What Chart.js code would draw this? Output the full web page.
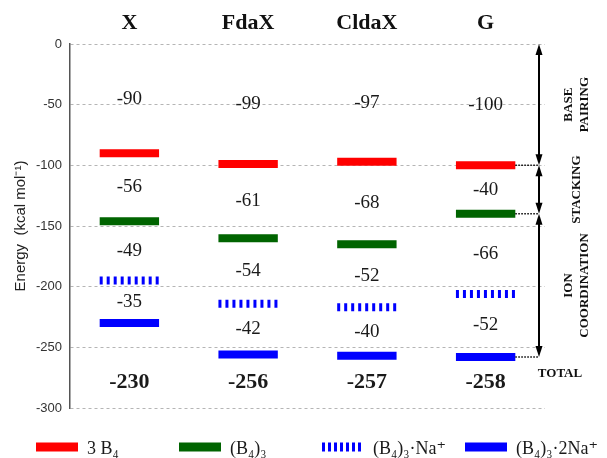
<!DOCTYPE html>
<html>
<head>
<meta charset="utf-8">
<script src="https://cdn.jsdelivr.net/npm/chart.js@4.4.0/dist/chart.umd.min.js"></script>
<style>
	html, body { margin: 0; padding: 0; background: #fff; }
	#wrap { width: 607px; height: 458px; }
</style>
</head>
<body>
<div id="wrap"><canvas id="energyChart"></canvas></div>
<script>
// 분자 종류 (x축 카테고리)
const categories = ['X', 'FdaX', 'CldaX', 'G'];

// 단계별 에너지 준위 (kcal/mol)
const levelB4 = [-90, -99, -97, -100];
const levelB4x3 = [-146, -160, -165, -140];
const levelNa = [-195, -214, -217, -206];
const level2Na = [-230, -256, -257, -258];

// 준위 사이에 적힌 차이 값
const diffBase = [-90, -99, -97, -100];
const diffStack = [-56, -61, -68, -40];
const diffIon1 = [-49, -54, -52, -66];
const diffIon2 = [-35, -42, -40, -52];
const totals = [-230, -256, -257, -258];

// y축 눈금
const yTicks = [0, -50, -100, -150, -200, -250, -300];

// 범례 / 오른쪽 구간 라벨
const seriesNames = ['3 B\u2084', '(B\u2084)\u2083', '(B\u2084)\u2083\u00b7Na\u207a', '(B\u2084)\u2083\u00b72Na\u207a'];
const seriesColors = ['#ff0000', '#006400', '#0000ff', '#0000ff'];
const sideLabels = [['BASE', 'PAIRING'], ['STACKING'], ['ION', 'COORDINATION']];

const SERIF = '"Liberation Serif", "DejaVu Serif", serif';
const SANS = '"Liberation Sans", Arial, sans-serif';

document.addEventListener('DOMContentLoaded', function() {
	initEnergyChart();
});

/**
 * 카테고리마다 짧은 수평선 (null 로 끊음)
 */
function levelData(values) {
	const pts = [];
	values.forEach(function(v, i) {
		pts.push({x: i - 0.25, y: v});
		pts.push({x: i + 0.25, y: v});
		pts.push({x: i + 0.5, y: null});
	});
	return pts;
}

function arrowHead(ctx, x, y, dir) {
	ctx.beginPath();
	ctx.moveTo(x, y);
	ctx.lineTo(x - 3.5, y - dir * 11);
	ctx.lineTo(x + 3.5, y - dir * 11);
	ctx.closePath();
	ctx.fill();
}

/**
 * 차이 값, 합계, 오른쪽 화살표, 범례 그리기
 */
const annotatePlugin = {
	id: 'annotate',
	afterDatasetsDraw: function(chart) {
		const ctx = chart.ctx;
		const xs = chart.scales.x;
		const ys = chart.scales.y;
		const area = chart.chartArea;
		ctx.save();

		// 차이 값 라벨
		ctx.textAlign = 'center';
		ctx.textBaseline = 'middle';
		ctx.fillStyle = '#1a1a1a';
		categories.forEach(function(c, i) {
			const stops = [0, levelB4[i], levelB4x3[i], levelNa[i], level2Na[i]];
			const labels = [diffBase[i], diffStack[i], diffIon1[i], diffIon2[i]];
			const cx = xs.getPixelForValue(i);
			ctx.font = '19px ' + SERIF;
			labels.forEach(function(lab, k) {
				ctx.fillText(String(lab), cx, ys.getPixelForValue((stops[k] + stops[k + 1]) / 2));
			});
			ctx.font = 'bold 22px ' + SERIF;
			ctx.fillText(String(totals[i]), cx, ys.getPixelForValue(-279));
		});

		// 오른쪽 화살표 (마지막 카테고리 기준)
		const last = categories.length - 1;
		const stopsG = [0, levelB4[last], levelB4x3[last], level2Na[last]];
		const ax = area.right - 6;
		ctx.strokeStyle = '#000';
		ctx.fillStyle = '#000';
		ctx.lineWidth = 2;
		for (let k = 0; k < stopsG.length - 1; k++) {
			const y1 = ys.getPixelForValue(stopsG[k]);
			const y2 = ys.getPixelForValue(stopsG[k + 1]);
			ctx.beginPath();
			ctx.moveTo(ax, y1 + 6);
			ctx.lineTo(ax, y2 - 6);
			ctx.stroke();
			arrowHead(ctx, ax, y1, -1);
			arrowHead(ctx, ax, y2, 1);
		}

		// 점선 연결
		ctx.lineWidth = 1.5;
		ctx.setLineDash([1.5, 1.5]);
		const bx = xs.getPixelForValue(last + 0.25);
		stopsG.slice(1).forEach(function(v) {
			const y = ys.getPixelForValue(v);
			ctx.beginPath();
			ctx.moveTo(bx, y);
			ctx.lineTo(ax, y);
			ctx.stroke();
		});
		ctx.setLineDash([]);

		// 구간 라벨 (세로)
		ctx.font = 'bold 13px ' + SERIF;
		ctx.fillStyle = '#111';
		sideLabels.forEach(function(lines, k) {
			const cy = ys.getPixelForValue((stopsG[k] + stopsG[k + 1]) / 2);
			ctx.save();
			ctx.translate(area.right + 32, cy);
			ctx.rotate(-Math.PI / 2);
			lines.forEach(function(t, j) {
				ctx.fillText(t, 0, (j - (lines.length - 1) / 2) * 16);
			});
			ctx.restore();
		});
		ctx.fillText('TOTAL', area.right + 15, ys.getPixelForValue(level2Na[last]) + 17);

		// 범례
		const legendX = [36, 179, 322, 465];
		const legendY = area.bottom + 39;
		ctx.textAlign = 'left';
		ctx.font = '18px ' + SERIF;
		seriesNames.forEach(function(name, k) {
			ctx.fillStyle = seriesColors[k];
			if (k === 2) {
				for (let s = 0; s < 42; s += 6) ctx.fillRect(legendX[k] + s, legendY - 4.5, 3, 9);
			} else {
				ctx.fillRect(legendX[k], legendY - 4.5, 42, 9);
			}
			ctx.fillStyle = '#1a1a1a';
			ctx.fillText(name, legendX[k] + 51, legendY + 2);
		});

		ctx.restore();
	}
};

/**
 * 에너지 준위 차트 초기화
 */
function initEnergyChart() {
	const ctx = document.getElementById('energyChart').getContext('2d');
	const levels = [levelB4, levelB4x3, levelNa, level2Na];
	new Chart(ctx, {
		type: 'line',
		data: {
			datasets: levels.map(function(vals, k) {
				return {
					label: seriesNames[k],
					data: levelData(vals),
					borderColor: seriesColors[k],
					borderWidth: 8,
					borderCapStyle: 'butt',
					borderDash: k === 2 ? [3, 4] : [],
					pointRadius: 0,
					spanGaps: false,
					tension: 0
				};
			})
		},
		options: {
			responsive: true,
			maintainAspectRatio: false,
			animation: false,
			layout: { padding: { left: 0, right: 62, top: 0, bottom: 50 } },
			plugins: {
				legend: { display: false },
				tooltip: { enabled: false }
			},
			scales: {
				x: {
					type: 'linear',
					position: 'top',
					min: -0.5,
					max: 3.5,
					afterBuildTicks: function(scale) {
						scale.ticks = categories.map(function(c, i) { return {value: i}; });
					},
					afterFit: function(scale) { scale.height = 44; },
					grid: { display: false },
					border: { display: false },
					ticks: {
						padding: -1,
						color: '#111',
						font: { family: SERIF, size: 22, weight: 'bold' },
						callback: function(value) { return categories[value]; }
					}
				},
				y: {
					type: 'linear',
					min: -300,
					max: 0,
					afterBuildTicks: function(scale) {
						scale.ticks = yTicks.map(function(v) { return {value: v}; });
					},
					afterFit: function(scale) { scale.width = 70; },
					grid: { color: '#b5b5b5', lineWidth: 1, drawTicks: false },
					border: { display: true, color: '#555', width: 1.5, dash: [3, 3] },
					ticks: {
						padding: 8,
						color: '#333',
						font: { family: SANS, size: 13 }
					},
					title: {
						display: true,
						text: 'Energy  (kcal mol\u207b\u00b9)',
						color: '#222',
						padding: { top: 12, bottom: 0 },
						font: { family: SANS, size: 15 }
					}
				}
			}
		},
		plugins: [annotatePlugin]
	});
}
</script>
</body>
</html>
